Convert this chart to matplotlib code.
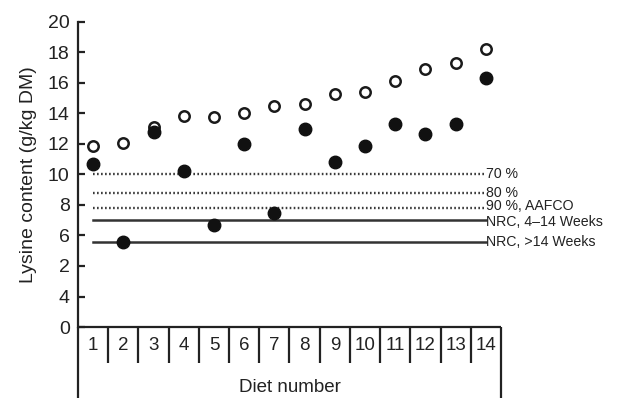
import numpy as np
import matplotlib
matplotlib.use('Agg')
import matplotlib.pyplot as plt

plt.rcParams['font.family'] = ['Liberation Sans', 'DejaVu Sans']

# Data
diets = list(range(1, 15))
lys_open = [11.9, 12.05, 13.1, 13.85, 13.8, 14.0, 14.5, 14.65, 15.3, 15.4, 16.1, 16.9, 17.3, 18.2]
lys_filled = [10.7, 5.6, 12.8, 10.2, 6.7, 12.0, 7.5, 13.0, 10.8, 11.9, 13.3, 12.65, 13.3, 16.3]

ref_values = [10.0, 8.8, 7.8, 7.0, 5.6]
ref_labels = ['70 %', '80 %', '90 %, AAFCO', 'NRC, 4\u201314 Weeks', 'NRC, >14 Weeks']
ref_dotted = [True, True, True, False, False]
label_nudge = [0, 0, 1.5, -1.5, 0]  # points, to keep the tight labels apart

ytick_pos = list(range(0, 21, 2))
ytick_labels = ['0', '4', '2', '6', '8', '10', '12', '14', '16', '18', '20']

fig = plt.figure(figsize=(6.2, 3.98), dpi=100)
ax = fig.add_axes([78 / 620, 71 / 398, 423 / 620, 305 / 398])
ax.set_xlim(0.5, 14.5)
ax.set_ylim(0, 20)

# reference lines
for val, lab, dotted, nud in zip(ref_values, ref_labels, ref_dotted, label_nudge):
    if dotted:
        ax.plot([1, 14.0], [val, val], color='#3a3a3a', lw=1.7,
                linestyle=(0, (0.7, 1.0)), zorder=1)
    else:
        ax.plot([1, 14.0], [val, val], color='#333333', lw=1.8, zorder=1)
    ax.annotate(lab, xy=(14.02, val), xytext=(0, nud), textcoords='offset points',
                fontsize=10.2, color='#222222', va='center', ha='left',
                annotation_clip=False)

ax.plot(diets, lys_open, 'o', ms=7.5, mfc='white', mec='#1a1a1a', mew=1.8, zorder=3,
        clip_on=False)
ax.plot(diets, lys_filled, 'o', ms=9, mfc='#111111', mec='#111111', zorder=3,
        clip_on=False)

for s in ['top', 'right', 'bottom']:
    ax.spines[s].set_visible(False)
ax.spines['left'].set_linewidth(1.6)
ax.spines['left'].set_color('#222222')

ax.set_yticks(ytick_pos)
ax.set_yticklabels(ytick_labels, fontsize=14, color='#222222')
ax.tick_params(axis='y', direction='in', length=5, width=1.6, color='#222222', pad=6)
ax.set_xticks([])
ax.set_ylabel('Lysine content (g/kg DM)', fontsize=14, color='#222222', labelpad=8)

# table under the axis
ppu = 305 / 20.0  # pixels per y unit
y_sep = -36 / ppu
y_bot = -75 / ppu
kw = dict(color='#222222', lw=1.6, clip_on=False, solid_capstyle='butt')
ax.plot([0.5, 14.5], [0, 0], **kw)
ax.plot([0.5, 0.5], [0, y_bot], **kw)
ax.plot([14.5, 14.5], [0, y_bot], **kw)
for k in range(1, 14):
    ax.plot([k + 0.5, k + 0.5], [0, y_sep], **kw)
for d in diets:
    ax.text(d, -19 / ppu, str(d), fontsize=13.5, color='#222222', ha='center', va='center')
ax.text(7.5, -60 / ppu, 'Diet number', fontsize=13.5, color='#222222', ha='center', va='center')

fig.savefig('out.png', dpi=100)
